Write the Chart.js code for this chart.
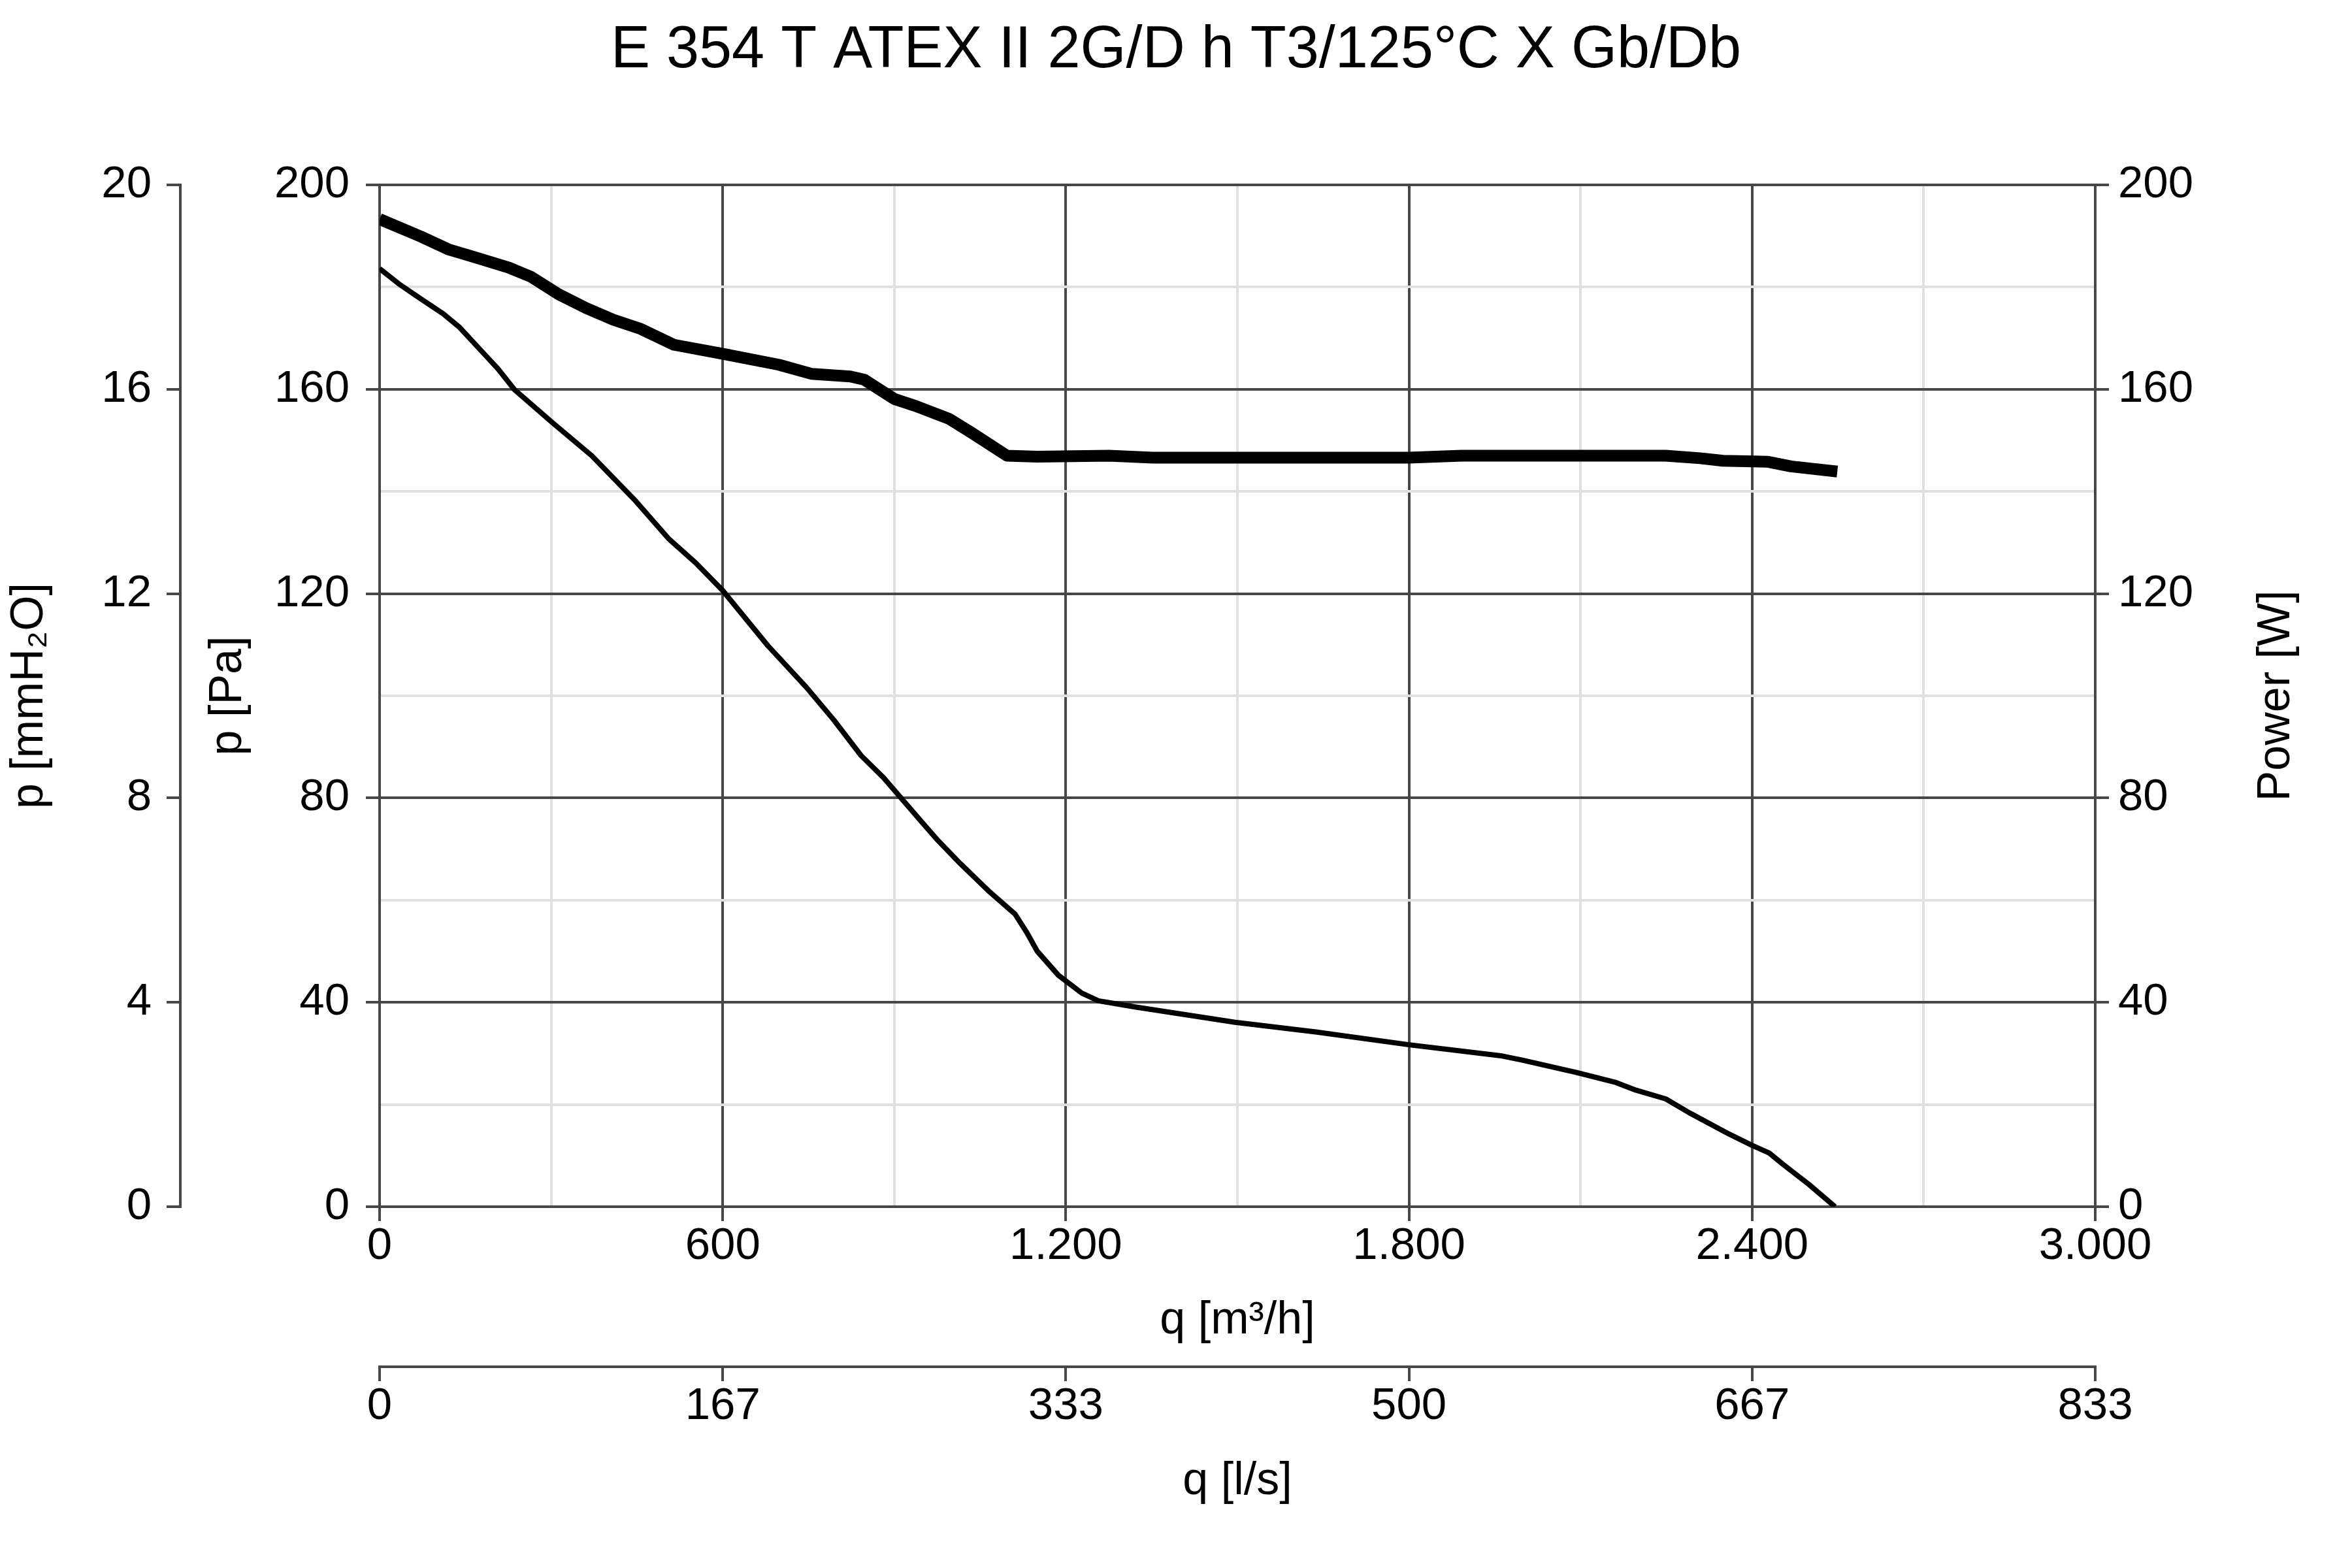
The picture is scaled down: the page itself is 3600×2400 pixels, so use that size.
<!DOCTYPE html>
<html>
<head>
<meta charset="utf-8">
<title>E 354 T ATEX fan curve</title>
<script src="https://cdn.jsdelivr.net/npm/chart.js@4.4.1/dist/chart.umd.min.js"></script>
<style>
  html, body { margin: 0; padding: 0; background: #fff; }
  #wrap { width: 3600px; height: 2400px; }
</style>
</head>
<body>
<div id="wrap"><canvas id="fanChart" width="3600" height="2400"></canvas></div>
<script>
// pressure curve, q in m³/h and p in Pa
const pressureFlow = [0, 34, 72, 111, 140, 178, 207, 236, 303, 371, 448, 505, 553, 600, 679, 746, 794, 842, 881,
  948, 977, 1015, 1064, 1111, 1131, 1150, 1187, 1228, 1257, 1321, 1496, 1637, 1800, 1963, 1998, 2092, 2162,
  2197, 2249, 2290, 2360, 2400, 2430, 2454, 2500, 2545];
const pressurePa = [183.6, 180.6, 177.7, 174.8, 172.1, 167.5, 164.0, 159.9, 153.4, 147.0, 138.1, 130.8, 126.0, 120.6,
  109.8, 101.7, 95.3, 88.3, 84.0, 75.3, 71.6, 67.2, 61.9, 57.3, 53.8, 50.0, 45.3, 41.8, 40.3, 39.1, 36.1, 34.2,
  31.7, 29.5, 28.7, 26.3, 24.3, 22.8, 21.1, 18.4, 14.2, 12.0, 10.5, 8.3, 4.3, 0];

// power curve, q in m³/h and power in W
const powerFlow = [0, 72, 120, 168, 226, 265, 313, 361, 409, 457, 515, 602, 698, 756, 823, 847, 900, 938, 996,
  1035, 1097, 1150, 1275, 1352, 1486, 1800, 1892, 2249, 2309, 2349, 2428, 2468, 2549];
const powerW = [193.3, 189.9, 187.4, 185.8, 183.8, 182.0, 178.6, 175.9, 173.6, 171.8, 168.7, 166.9, 164.8, 163.0,
  162.5, 161.9, 158.1, 156.7, 154.2, 151.5, 147.0, 146.8, 147.0, 146.6, 146.6, 146.6, 147.0, 147.0, 146.5, 146.0,
  145.8, 144.9, 143.9];

const flowTickLabels = ['0', '600', '1.200', '1.800', '2.400', '3.000'];
const litreTickLabels = ['0', '167', '333', '500', '667', '833'];

const FONT = "'Liberation Sans', Arial, sans-serif";
const dark = '#474747';
const light = '#e0e0e0';

Chart.defaults.font.family = FONT;
Chart.defaults.color = '#000';

const tickFont = { size: 69, lineHeight: 1 };
const titleFont = { size: 70 };

function gridColor(step) {
  return ctx => (ctx.tick && ctx.tick.value % step === 0) ? dark : light;
}
function tickColor(step) {
  return ctx => (ctx.tick && ctx.tick.value % step === 0) ? dark : 'rgba(0,0,0,0)';
}

// "Power [W]" reads bottom to top on the right side, which chart.js won't do by itself
const rightTitle = {
  id: 'rightTitle',
  afterDraw(chart) {
    const s = chart.scales.yW;
    const area = chart.chartArea;
    const ctx = chart.ctx;
    ctx.save();
    ctx.translate(s.right - 115, (area.top + area.bottom) / 2);
    ctx.rotate(-Math.PI / 2);
    ctx.font = '70px ' + FONT;
    ctx.fillStyle = '#000';
    ctx.textAlign = 'center';
    ctx.textBaseline = 'middle';
    ctx.fillText('Power [W]', 0, 0);
    ctx.restore();
  }
};

const ctx = document.getElementById('fanChart').getContext('2d');
new Chart(ctx, {
  type: 'line',
  data: {
    datasets: [
      {
        label: 'p [Pa]',
        data: pressureFlow.map((q, i) => ({ x: q, y: pressurePa[i] })),
        xAxisID: 'x',
        yAxisID: 'y',
        borderColor: '#000',
        borderWidth: 8,
        borderJoinStyle: 'round',
        pointRadius: 0,
        tension: 0
      },
      {
        label: 'Power [W]',
        data: powerFlow.map((q, i) => ({ x: q, y: powerW[i] })),
        xAxisID: 'x',
        yAxisID: 'yW',
        borderColor: '#000',
        borderWidth: 18,
        borderJoinStyle: 'round',
        pointRadius: 0,
        tension: 0
      }
    ]
  },
  options: {
    responsive: false,
    devicePixelRatio: 1,
    animation: false,
    layout: { padding: 0 },
    plugins: {
      legend: { display: false },
      tooltip: { enabled: false },
      title: {
        display: true,
        text: 'E 354 T ATEX II 2G/D h T3/125°C X Gb/Db',
        font: { size: 90, weight: 'normal' },
        color: '#000',
        padding: { top: 24, bottom: 151 }
      }
    },
    scales: {
      x: {
        type: 'linear',
        position: 'bottom',
        weight: 0,
        min: 0,
        max: 3000,
        ticks: {
          stepSize: 300,
          autoSkip: false,
          maxRotation: 0,
          padding: 4,
          font: tickFont,
          callback: v => v % 600 === 0 ? flowTickLabels[v / 600] : ''
        },
        grid: { color: gridColor(600), tickColor: tickColor(600), lineWidth: 4, tickLength: 22 },
        border: { color: dark, width: 4 },
        title: { display: true, text: 'q [m³/h]', font: titleFont, padding: { top: 0, bottom: 28 } },
        afterFit: s => { s.height = 245; }
      },
      xLs: {
        type: 'linear',
        position: 'bottom',
        weight: 1,
        min: 0,
        max: 3000,
        ticks: {
          stepSize: 600,
          autoSkip: false,
          maxRotation: 0,
          padding: 4,
          font: tickFont,
          callback: v => litreTickLabels[Math.round(v / 600)]
        },
        grid: { drawOnChartArea: false, color: dark, lineWidth: 4, tickLength: 22 },
        border: { color: dark, width: 4 },
        title: { display: true, text: 'q [l/s]', font: titleFont, padding: { top: 0, bottom: 90 } },
        afterFit: s => { s.height = 308; }
      },
      y: {
        type: 'linear',
        position: 'left',
        weight: 0,
        min: 0,
        max: 200,
        ticks: {
          stepSize: 20,
          autoSkip: false,
          padding: 25,
          font: tickFont,
          callback: v => v % 40 === 0 ? String(v) : ''
        },
        grid: { color: gridColor(40), tickColor: tickColor(40), lineWidth: 4, tickLength: 21 },
        border: { color: dark, width: 4 },
        title: { display: true, text: 'p [Pa]', font: titleFont, padding: { top: 32, bottom: 10 } },
        afterFit: s => { s.width = 305; }
      },
      yMm: {
        type: 'linear',
        position: 'left',
        weight: 1,
        min: 0,
        max: 20,
        ticks: { stepSize: 4, autoSkip: false, padding: 23, font: tickFont },
        grid: { drawOnChartArea: false, color: dark, lineWidth: 4, tickLength: 21 },
        border: { color: dark, width: 4 },
        title: { display: true, text: 'p [mmH₂O]', font: titleFont, padding: { top: 4, bottom: 10 } },
        afterFit: s => { s.width = 276; }
      },
      yW: {
        type: 'linear',
        position: 'right',
        min: 0,
        max: 200,
        ticks: { stepSize: 40, autoSkip: false, padding: 14, font: tickFont },
        grid: { drawOnChartArea: false, color: dark, lineWidth: 4, tickLength: 21 },
        border: { color: dark, width: 4 },
        afterFit: s => { s.width = 393; }
      }
    }
  },
  plugins: [rightTitle]
});
</script>
</body>
</html>
